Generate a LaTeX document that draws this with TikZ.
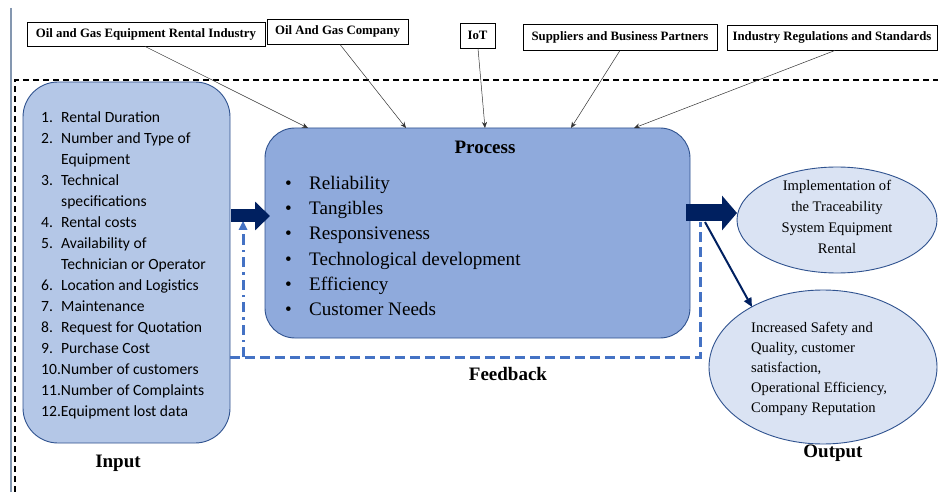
\documentclass[tikz,border=0pt]{standalone}
\usepackage{fontspec}
\setmainfont{Liberation Serif}
\newfontfamily\calibfont{Carlito}
\usetikzlibrary{arrows.meta,shapes.geometric,calc}
\definecolor{inputfill}{HTML}{B4C7E7}
\definecolor{procfill}{HTML}{8FAADC}
\definecolor{ellfill}{HTML}{DAE3F3}
\definecolor{boxborder}{HTML}{2F528F}
\definecolor{navy}{HTML}{002060}
\definecolor{fbblue}{HTML}{4472C4}
\definecolor{sideline}{HTML}{8497B0}
\tikzset{
  topbox/.style={draw=black, line width=0.9pt, fill=white, inner sep=0pt, font=\fontsize{12.8}{14}\selectfont\bfseries},
  infl/.style={-{Stealth[length=6pt,width=5pt]}, line width=0.5pt, draw=black!80},
  blockarrow/.style={draw=navy, line width=#1},
  fbline/.style={draw=fbblue, line width=3pt, dash pattern=on 10pt off 5pt},
  fbdashdot/.style={draw=fbblue, line width=3pt, dash pattern=on 10pt off 5pt on 2.5pt off 5pt},
  ell/.style={ellipse, draw=boxborder, line width=0.9pt, fill=ellfill, inner sep=0pt},
  ttl/.style={font=\fontsize{19}{21}\selectfont\bfseries, inner sep=0pt},
}
\begin{document}
\begin{tikzpicture}[x=1pt,y=-1pt]
\useasboundingbox (0,0) rectangle (938,492);
\fill[white] (0,0) rectangle (938,492);
% side line and outer dashed frame
\draw[sideline, line width=2pt] (11,8) -- (11,492);
\draw[black, line width=1.3pt, dash pattern=on 6pt off 4pt] (15,492) -- (15,80) -- (938,80);
% top boxes
\node[topbox, minimum width=238pt, minimum height=24pt] (b1) at (146,34) {Oil and Gas Equipment Rental Industry};
\node[topbox, minimum width=141pt, minimum height=25pt] (b2) at (337.5,31.5) {Oil And Gas Company};
\node[topbox, minimum width=35pt, minimum height=25pt] (b3) at (477.5,35.5) {IoT};
\node[topbox, minimum width=194pt, minimum height=26pt] (b4) at (620,37) {Suppliers and Business Partners};
\node[topbox, minimum width=210pt, minimum height=25pt] (b5) at (832,37.5) {Industry Regulations and Standards};
% input box
\node[draw=boxborder, line width=0.9pt, fill=inputfill, rounded corners=35pt, minimum width=207pt, minimum height=361pt] (input) at (126.5,262.5) {};
\node[anchor=west, align=left, inner sep=0pt, font=\calibfont\fontsize{15.6}{21}\selectfont] (inlist) at (41,265.5)
  {\makebox[20pt][l]{1.}Rental Duration\\
   \makebox[20pt][l]{2.}Number and Type of\\
   \makebox[20pt][l]{}Equipment\\
   \makebox[20pt][l]{3.}Technical\\
   \makebox[20pt][l]{}specifications\\
   \makebox[20pt][l]{4.}Rental costs\\
   \makebox[20pt][l]{5.}Availability of\\
   \makebox[20pt][l]{}Technician or Operator\\
   \makebox[20pt][l]{6.}Location and Logistics\\
   \makebox[20pt][l]{7.}Maintenance\\
   \makebox[20pt][l]{8.}Request for Quotation\\
   \makebox[20pt][l]{9.}Purchase Cost\\
   10.Number of customers\\
   11.Number of Complaints\\
   12.Equipment lost data};
% process box
\node[draw=boxborder, line width=0.9pt, fill=procfill, rounded corners=30pt, minimum width=425pt, minimum height=210pt] (process) at (477.5,233) {};
\node[ttl] (proctitle) at (485,147) {Process};
\node[anchor=west, align=left, inner sep=0pt, font=\fontsize{19.1}{25.2}\selectfont] (proclist) at (285,246)
  {\makebox[24pt][l]{\textbullet}Reliability\\
   \makebox[24pt][l]{\textbullet}Tangibles\\
   \makebox[24pt][l]{\textbullet}Responsiveness\\
   \makebox[24pt][l]{\textbullet}Technological development\\
   \makebox[24pt][l]{\textbullet}Efficiency\\
   \makebox[24pt][l]{\textbullet}Customer Needs};
% ellipses
\node[ell, minimum width=200pt, minimum height=106pt] (e1) at (837,220) {};
\node[align=center, inner sep=0pt, font=\fontsize{14.6}{21}\selectfont] (e1t) at (837,217) {Implementation of\\the Traceability\\System Equipment\\Rental};
\node[ell, minimum width=228pt, minimum height=154pt] (e2) at (823,367) {};
\node[anchor=west, align=left, inner sep=0pt, font=\fontsize{14.6}{20}\selectfont] (e2t) at (751,369) {Increased Safety and\\Quality, customer\\satisfaction,\\Operational Efficiency,\\Company Reputation};
% labels
\node[ttl] (inlbl) at (118,463) {Input};
\node[ttl] (fblbl) at (508,374) {Feedback};
\node[ttl] (outlbl) at (833,453) {Output};
% influence arrows
\coordinate (p1) at (308,128);
\coordinate (p2) at (406,128);
\coordinate (p3) at (485,128);
\coordinate (p4) at (571,128);
\coordinate (p5) at (634,128);
\draw[infl] ([xshift=-1pt]b1.south) -- (p1);
\draw[infl] ([xshift=2.5pt]b2.south) -- (p2);
\draw[infl] ([xshift=0.5pt]b3.south) -- (p3);
\draw[infl] ([xshift=0pt]b4.south) -- (p4);
\draw[infl] ([xshift=3pt]b5.south) -- (p5);
% feedback loop
\coordinate (fbR) at (700,357);
\coordinate (fbRtop) at (700,222);
\coordinate (fbL) at (243,357);
\coordinate (fbLtop) at (243,221);
\draw[fbline] (input.east |- fbR) -- (fbR) -- (fbRtop);
\draw[fbdashdot] (fbL) -- ([yshift=8pt]fbLtop);
\fill[fbblue] (fbLtop) -- ++(-4.5,9) -- ++(9,0) -- cycle;
% block arrows
\coordinate (a1s) at (231,216);
\coordinate (a1e) at (270,216);
\draw[blockarrow=13pt, -{Triangle[length=15pt,width=28pt]}] (a1s) -- (a1e);
\coordinate (a2s) at (686,213);
\coordinate (a2e) at (737,213);
\draw[blockarrow=17pt, -{Triangle[length=15pt,width=34pt]}] (a2s) -- (a2e);
\coordinate (a3s) at (705,222);
\draw[navy, line width=2pt, -{Triangle[length=9pt,width=8pt]}] (a3s) -- (752,307);
\end{tikzpicture}
\end{document}
